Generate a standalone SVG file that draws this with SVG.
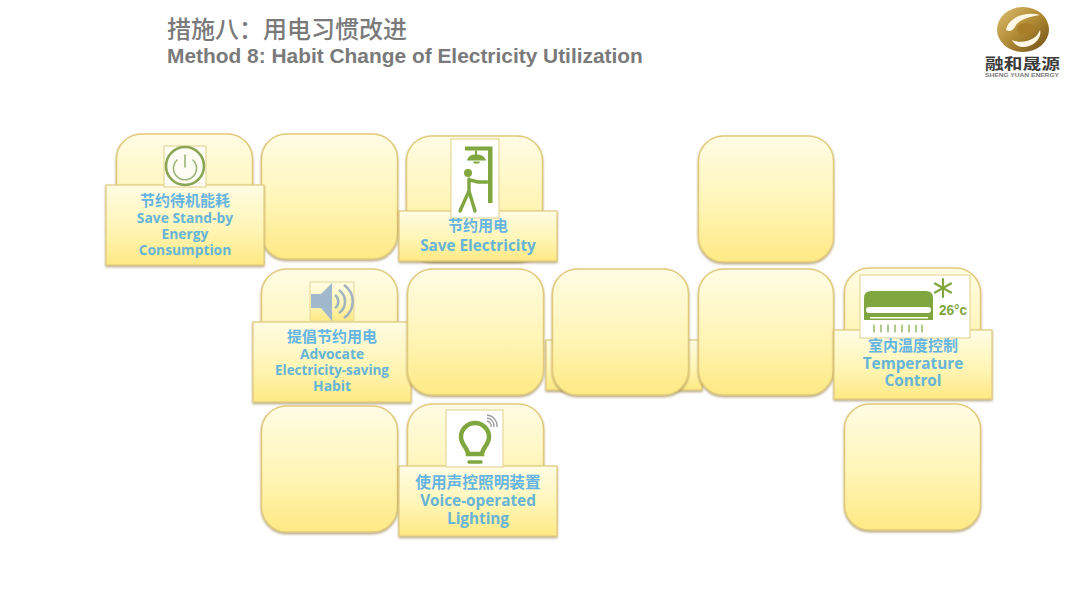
<svg xmlns="http://www.w3.org/2000/svg" width="1080" height="608" viewBox="0 0 1080 608">
<style>
.card{fill:url(#g);stroke:#e2ca7c;stroke-width:1.5;filter:url(#s)}
.lab{fill:url(#g);stroke:#e2ca7c;stroke-width:1.2;filter:url(#s)}
.zh{font-family:"Noto Sans CJK SC",sans-serif;font-weight:700;font-size:15px;fill:#66b4e2;text-anchor:middle}
.en{font-family:"Open Sans","Noto Sans",sans-serif;font-weight:700;font-size:13.800px;fill:#66b4d8;text-anchor:middle}
.big{font-size:15.300px}
.ico{fill:#fff;stroke:#e6d79c;stroke-width:1.2}
.gr{fill:#7fa63f}
.grl{fill:none;stroke:#7fa63f;stroke-linecap:round}
</style>
<defs>
<linearGradient id="g" x1="0" y1="0" x2="0" y2="1"><stop offset="0" stop-color="#fffce4"/><stop offset="0.55" stop-color="#fff5b6"/><stop offset="1" stop-color="#fee984"/></linearGradient>
<linearGradient id="gold" x1="0" y1="0" x2="1" y2="1"><stop offset="0" stop-color="#dcc070"/><stop offset="0.5" stop-color="#b08a34"/><stop offset="1" stop-color="#6e4e16"/></linearGradient>
<filter id="s" x="-5%" y="-5%" width="110%" height="112%"><feDropShadow dx="0" dy="1.500" stdDeviation="0.900" flood-color="#8f7838" flood-opacity="0.65"/></filter>
</defs>
<rect width="1080" height="608" fill="#fff"/>
<g id="title">
<text x="167" y="38" font-family="'Noto Sans CJK SC',sans-serif" font-weight="500" font-size="24" fill="#7a7a7a">措施八：用电习惯改进</text>
<text x="167" y="63" font-family="'Liberation Sans',Arial,sans-serif" font-weight="700" font-size="20.900" fill="#7a7a7a">Method 8: Habit Change of Electricity Utilization</text>
</g>
<g id="logo">
<ellipse cx="1023" cy="29.500" rx="26" ry="22.500" fill="url(#gold)"/>
<path d="M1006 30C1008 18 1024 11 1040 15C1032 16 1020 19 1016 25C1014 29 1011 33 1006 30Z" fill="#fff8e6"/>
<path d="M1012 40C1022 44 1036 41 1040 30C1042 36 1036 46 1024 47C1018 47 1014 44 1012 40Z" fill="#fff8e6"/>
<ellipse cx="1026" cy="29" rx="9" ry="6" fill="#a87e28"/>
<text x="1022.500" y="68.500" font-family="'Noto Sans CJK SC',sans-serif" font-weight="700" font-size="15" fill="#3c3c3c" text-anchor="middle" textLength="75" lengthAdjust="spacingAndGlyphs">融和晟源</text>
<text x="1022" y="77" font-family="'Liberation Sans',sans-serif" font-weight="700" font-size="5.500" fill="#777" text-anchor="middle" textLength="74" lengthAdjust="spacingAndGlyphs">SHENG YUAN ENERGY</text>
</g>
<g id="connectors"></g>
<g id="empty-top-2"><rect class="card" x="261.500" y="134" width="136" height="125" rx="25"/></g>
<g id="empty-top-4"><rect class="card" x="698.500" y="136" width="135" height="126" rx="25"/></g>
<g id="standby">
<rect class="card" x="116.500" y="134" width="136" height="125" rx="25"/>
<rect class="lab" x="106" y="185" width="158" height="80"/>
<rect class="ico" x="164" y="146" width="42" height="41" style="fill:#fdfdf4"/>
<circle cx="185" cy="166" r="19" fill="none" stroke="#8aa654" stroke-width="2.600"/>
<path class="grl" d="M177 160a11.500 11.500 0 1 0 16 0M185 155v12" style="stroke:#9db57a;stroke-width:1.600"/>
<text class="zh" x="185" y="206">节约待机能耗</text>
<text class="en" x="185" y="223">Save Stand-by</text>
<text class="en" x="185" y="239">Energy</text>
<text class="en" x="185" y="255">Consumption</text>
</g>
<g id="save-electricity">
<rect class="card" x="406.500" y="136" width="136" height="125" rx="25"/>
<rect class="lab" x="399" y="211" width="158" height="50"/>
<rect class="ico" x="451" y="139" width="48" height="79"/>
<path class="gr" d="M465 146.500H492.500V203H488V150.500H465Z"/>
<path class="gr" d="M475 150.500h2v4c4 0 8 2 9 6H467c1-4 4-6 8-6ZM473 161.500h7l-1 2h-5Z"/>
<circle class="gr" cx="468" cy="173" r="4"/>
<path class="grl" style="stroke-width:3.400" d="M469 179L469 191L460 211M469 191L475 211M470 180L478 182H487"/>
<text class="zh" x="478" y="231">节约用电</text>
<text class="en big" x="478" y="251">Save Electricity</text>
</g>
<g id="advocate">
<rect class="card" x="261.500" y="269" width="136" height="125" rx="25"/>
<rect class="lab" x="253" y="322" width="158" height="80"/>
<rect x="310" y="282" width="44" height="39" fill="url(#g)" stroke="#e6d79c"/>
<path d="M311 294H321L332 283V321L321 308H311Z" fill="#9fb8cb"/>
<path d="M335 295a8 8 0 0 1 0 13M339 290a14 14 0 0 1 0 23M344 285a20 20 0 0 1 0 33" fill="none" stroke="#9fb2bf" stroke-width="2.500"/>
<text class="zh" x="332" y="342">提倡节约用电</text>
<text class="en" x="332" y="359">Advocate</text>
<text class="en" x="332" y="375" style="font-size:13.400px">Electricity-saving</text>
<text class="en" x="332" y="391">Habit</text>
</g>
<g id="hidden-label"><rect class="lab" x="546" y="340" width="156" height="50"/></g>
<g id="empty-mid-2"><rect class="card" x="407.500" y="269" width="136" height="126" rx="25"/></g>
<g id="empty-mid-3"><rect class="card" x="552.500" y="269" width="136" height="126" rx="25"/></g>
<g id="empty-mid-4"><rect class="card" x="698.500" y="269" width="135" height="126" rx="25"/></g>
<g id="temperature">
<rect class="card" x="844.500" y="268" width="136" height="125" rx="25"/>
<rect class="lab" x="834" y="330" width="158" height="69"/>
<rect class="ico" x="860" y="275" width="110" height="63"/>
<path class="gr" d="M871 291H926Q933 291 933 298V320H864V298Q864 291 871 291Z"/>
<rect x="866" y="307" width="65" height="6" rx="3" fill="#fff"/>
<rect x="870" y="317" width="58" height="1.500" fill="#fff"/>
<path class="grl" style="stroke-width:2.200" d="M943 279V297M935 283.500L951 292.500M951 283.500L935 292.500"/>
<path class="grl" style="stroke-width:1.200" d="M874 325v7M881 325v7M888 325v7M895 325v7M902 325v7M909 325v7M916 325v7M922 325v7"/>
<text x="953" y="315" font-family="'Liberation Sans',sans-serif" font-weight="700" font-size="15" fill="#7fa63f" text-anchor="middle" textLength="28" lengthAdjust="spacingAndGlyphs">26°c</text>
<text class="zh" x="913" y="351">室内温度控制</text>
<text class="en big" x="913" y="369">Temperature</text>
<text class="en big" x="913" y="386">Control</text>
</g>
<g id="empty-bot-1"><rect class="card" x="261.500" y="406" width="136" height="126" rx="25"/></g>
<g id="empty-bot-3"><rect class="card" x="844.500" y="404" width="136" height="126" rx="25"/></g>
<g id="voice">
<rect class="card" x="407.500" y="404" width="136" height="126" rx="25"/>
<rect class="lab" x="399" y="466" width="158" height="70"/>
<rect class="ico" x="446" y="410" width="57" height="57"/>
<path class="grl" style="stroke-width:4.500" d="M468 454C468 448 461 445 461 437A14 14 0 0 1 489 437C489 445 482 448 482 454Z"/>
<path class="grl" style="stroke-width:3.500" d="M469 462H481"/>
<path d="M487 415a11 11 0 0 1 10 12M487 418a8 8 0 0 1 7 9M487 421a5 5 0 0 1 4 6" fill="none" stroke="#9a9a9a" stroke-width="1.300"/>
<text class="zh" x="478" y="488" style="font-size:15.700px">使用声控照明装置</text>
<text class="en big" x="478" y="506">Voice-operated</text>
<text class="en big" x="478" y="524">Lighting</text>
</g>
</svg>
